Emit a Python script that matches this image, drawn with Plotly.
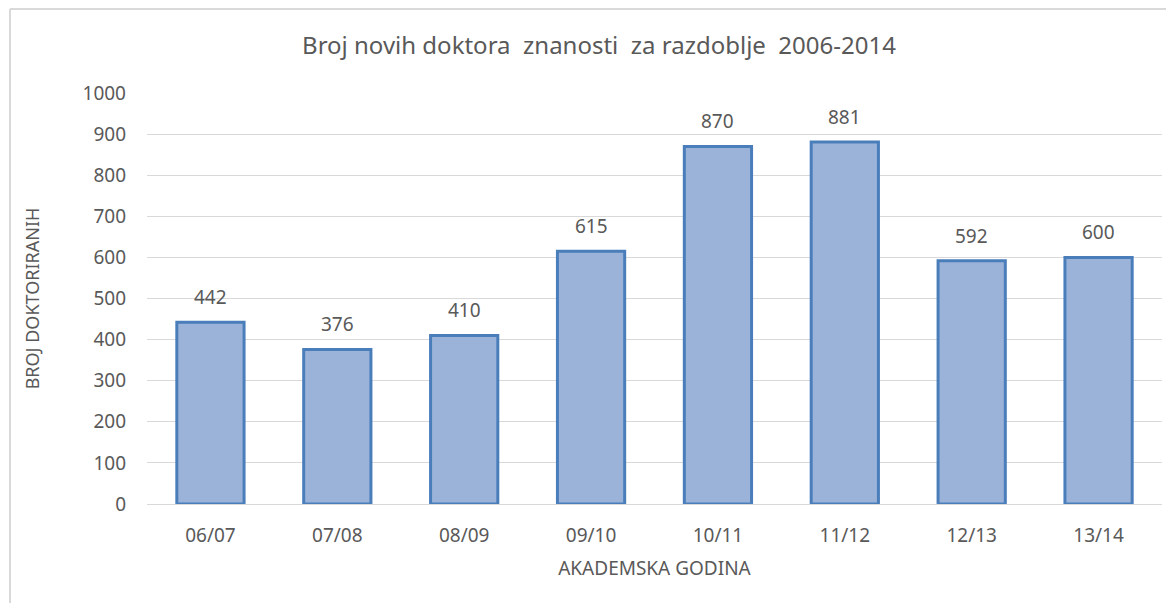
import plotly.graph_objects as go

# academic years and number of new PhDs
godine = ["06/07", "07/08", "08/09", "09/10", "10/11", "11/12", "12/13", "13/14"]
doktorirani = [442, 376, 410, 615, 870, 881, 592, 600]
y_ticks = [0, 100, 200, 300, 400, 500, 600, 700, 800, 900, 1000]

# the page body has an 8px margin, so the figure is drawn 8px in
OFF = 8
W, H = 1174 - OFF, 603 - OFF
L, R, T, B = 147 - OFF, 12, 93 - OFF, 99
grey = "#595959"
font = "Noto Sans"

fig = go.Figure()
fig.add_trace(go.Bar(
    x=godine, y=doktorirani,
    marker=dict(color="#9CB3D9", line=dict(color="#4A7EBB", width=3)),
))

# value labels above the bars
for g, v in zip(godine, doktorirani):
    fig.add_annotation(x=g, y=v, text=str(v), showarrow=False,
                       yanchor="bottom", yshift=10,
                       font=dict(size=19, color=grey, family=font))


def px_x(p):
    return (p - OFF - L) / (W - L - R)


def px_y(p):
    return (H - B - (p - OFF)) / (H - T - B)


fig.update_layout(
    width=W, height=H,
    margin=dict(l=L, r=R, t=T, b=B),
    paper_bgcolor="white", plot_bgcolor="white",
    bargap=0.47,
    showlegend=False,
    title=dict(text="Broj novih doktora  znanosti  za razdoblje  2006-2014",
               xref="container", x=(599 - OFF) / W, xanchor="center",
               yref="container", y=1 - (46 - OFF) / H, yanchor="middle",
               font=dict(size=24, color=grey, family=font)),
    font=dict(family=font, color=grey),
    shapes=[
        # chart frame, partly cut by the page
        dict(type="line", xref="paper", yref="paper",
             x0=px_x(10), x1=px_x(10), y0=px_y(9), y1=px_y(H + 20),
             line=dict(color="#D9D9D9", width=2)),
        dict(type="line", xref="paper", yref="paper",
             x0=px_x(10), x1=px_x(W + 40), y0=px_y(9), y1=px_y(9),
             line=dict(color="#D9D9D9", width=2)),
    ],
)
fig.update_xaxes(
    showgrid=False, showline=False, ticks="",
    tickfont=dict(size=19, color=grey, family=font), ticklabelstandoff=18,
    title=dict(text="AKADEMSKA GODINA", font=dict(size=19, color=grey, family=font), standoff=14),
)
fig.update_yaxes(
    range=[0, 1000], tickvals=y_ticks, showgrid=True, gridcolor="#D9D9D9", gridwidth=1,
    zeroline=True, zerolinecolor="#D9D9D9", zerolinewidth=1,
    tickfont=dict(size=19, color=grey, family=font), ticklabelstandoff=20,
    title=dict(text="BROJ DOKTORIRANIH", font=dict(size=18, color=grey, family=font), standoff=38),
)

fig.write_html("out.html")
